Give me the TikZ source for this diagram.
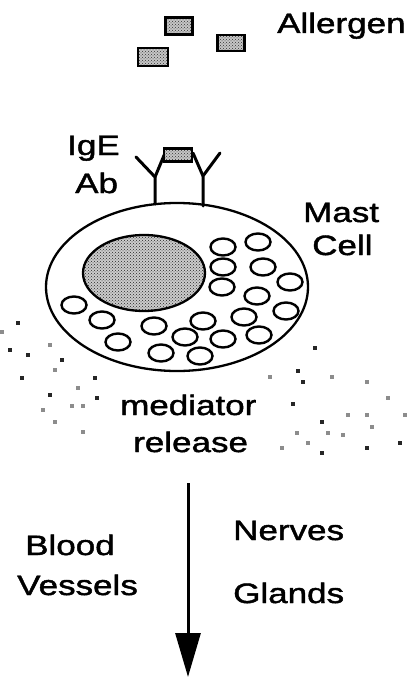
\documentclass[tikz,border=0pt]{standalone}
\usepackage{fontspec}
\setmainfont{Liberation Sans}[FakeStretch=1.25,FakeBold=1.6]
\usetikzlibrary{patterns,arrows.meta}
\begin{document}
\begin{tikzpicture}[x=1pt,y=-1pt,
  lbl/.style={anchor=base west,inner sep=0pt,font=\fontsize{28}{32}\selectfont},
  agbox/.style={draw=black,line width=2.2pt,inner sep=0pt,
    preaction={fill=gray!45},pattern=crosshatch dots,pattern color=black!80},
  membrane/.style={draw=black,line width=2.3pt},
  granule/.style={draw=black,line width=2.4pt,fill=white},
  antibody/.style={line width=3pt,line cap=round,line join=round},
  speck/.style={fill=black!85},
  faint/.style={fill=black!45}]
\useasboundingbox (0,0) rectangle (414,677);

% free allergen particles
\node[agbox,minimum width=27,minimum height=17] (ag1) at (179,26) {};
\node[agbox,minimum width=30,minimum height=18] (ag2) at (153,57) {};
\node[agbox,minimum width=27,minimum height=16] (ag3) at (231,43) {};
\node[lbl] (allergen) at (277,33) {Allergen};

% mast cell with nucleus
\draw[membrane] (177,287) ellipse [x radius=131, y radius=84];
\draw[membrane,preaction={fill=gray!40},pattern=crosshatch dots,pattern color=black!85]
  (144,273) ellipse [x radius=61, y radius=38];

% granules
\foreach \gx/\gy in {223/247,258/242,223/267,263/267,222/287,257/296,290/282,
  286/311,259/335,244/317,203/321,223/339,185/337,200/356,161/353,154/326,
  118/342,102/320,74/305}
  \draw[granule] (\gx,\gy) ellipse [x radius=12.5, y radius=8.5];

% IgE antibodies bridged by an allergen
\draw[antibody] (155,204) -- (155,177) -- (136,157);
\draw[antibody] (155,177) -- (165,153);
\draw[antibody] (203,206) -- (203,176) -- (220,153);
\draw[antibody] (203,176) -- (193,153);
\node[agbox,minimum width=28,minimum height=13] (agb) at (178,155) {};
\node[lbl] (ige) at (67,155) {IgE};
\node[lbl] (ab) at (75,193) {Ab};
\node[lbl] (mast) at (303,222) {Mast};
\node[lbl] (cell) at (312,255) {Cell};

% released mediators
\foreach \dx/\dy in {18/323,10/350,28/355,62/360,22/378,95/378,50/395,97/398,
  322/422,293/404,315/348,298/371,367/448,322/453,303/382,400/443}
  \fill[speck] (\dx-1.6,\dy-1.6) rectangle ++(3.2,3.2);
\foreach \dx/\dy in {2/332,50/345,55/370,78/388,72/406,83/406,43/410,55/422,
  83/432,270/377,332/377,367/382,388/398,348/415,367/415,405/415,372/427,
  297/433,343/435,328/433,308/443,282/448}
  \fill[faint] (\dx-1.6,\dy-1.6) rectangle ++(3.2,3.2);
\node[lbl] (mediator) at (120,415) {mediator};
\node[lbl] (release) at (133,452) {release};

% effect on target tissues
\coordinate (arrtop) at (188,483);
\coordinate (arrend) at (188,677);
\draw[line width=3pt,-{Triangle[length=44pt,width=25pt]}] (arrtop) -- (arrend);
\node[lbl] (blood) at (25,555) {Blood};
\node[lbl] (vessels) at (17,595) {Vessels};
\node[lbl] (nerves) at (233,540) {Nerves};
\node[lbl] (glands) at (233,603) {Glands};
\end{tikzpicture}
\end{document}
